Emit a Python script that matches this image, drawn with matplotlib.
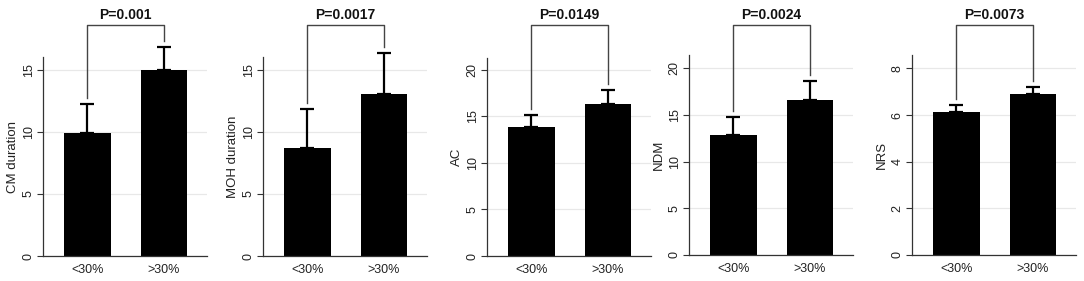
import matplotlib
matplotlib.use("Agg")
import matplotlib.pyplot as plt

plt.rcParams['font.family'] = ['Liberation Sans', 'DejaVu Sans']

groups = ["<30%", ">30%"]
ylabels = ["CM duration", "MOH duration", "AC", "NDM", "NRS"]
pvalues = ["P=0.001", "P=0.0017", "P=0.0149", "P=0.0024", "P=0.0073"]
means = [[9.9, 14.95], [8.73, 13.0], [13.85, 16.3], [12.86, 16.6], [6.12, 6.9]]
upper = [[12.25, 16.8], [11.85, 16.35], [15.2, 17.85], [14.75, 18.65], [6.43, 7.19]]
yticks = [[0, 5, 10, 15], [0, 5, 10, 15], [0, 5, 10, 15, 20],
          [0, 5, 10, 15, 20], [0, 2, 4, 6, 8]]

# layout (pixels / axis limits)
W, H = 1084, 281
lefts = [43, 263, 487, 689, 912]
zero_px = [256, 256, 256, 255, 255]
ytop = [20.6, 20.6, 27.5, 27.3, 10.93]
spine_top = [16, 16, 21.3, 21.4, 8.57]
xlim = (-0.58, 1.56)
unit_px = 76.5
ax_w = (xlim[1] - xlim[0]) * unit_px

fig = plt.figure(figsize=(W / 100, H / 100), dpi=100)

for i in range(5):
    ax = fig.add_axes([lefts[i] / W, (H - zero_px[i]) / H, ax_w / W, zero_px[i] / H])
    x = [0, 1]
    ax.bar(x, means[i], width=0.61, color='black', zorder=2)
    err = [u - m for u, m in zip(upper[i], means[i])]
    ax.errorbar(x, means[i], yerr=[[0, 0], err], fmt='none', ecolor='black',
                elinewidth=1.6, capsize=5, capthick=1.6, zorder=3)
    ax.set_xlim(*xlim)
    ax.set_ylim(0, ytop[i])
    ax.set_yticks(yticks[i])
    ax.set_xticks(x)
    ax.set_xticklabels(groups, fontsize=9, color='#222222')
    ax.tick_params(axis='x', length=0, pad=6)
    ax.tick_params(axis='y', length=4, width=0.8, color='#333333', pad=2,
                   labelsize=9, labelcolor='#222222')
    for lab in ax.get_yticklabels():
        lab.set_rotation(90)
        lab.set_va('center')
    ax.set_ylabel(ylabels[i], fontsize=9.5, color='#222222')
    ax.yaxis.set_label_coords(-0.145, spine_top[i] / 2 / ytop[i])
    ax.yaxis.grid(True, color='#e8e8e8', lw=0.9)
    ax.set_axisbelow(True)
    for s in ['top', 'right']:
        ax.spines[s].set_visible(False)
    ax.spines['left'].set_bounds(0, spine_top[i])
    for s in ['left', 'bottom']:
        ax.spines[s].set_color('#333333')
        ax.spines[s].set_linewidth(0.9)

    # significance bracket
    scale = zero_px[i] / ytop[i]
    btop = (zero_px[i] - 25) / scale
    gap = 6 / scale
    ax.plot([0, 0, 1, 1], [upper[i][0] + gap, btop, btop, upper[i][1] + gap],
            color='#444444', lw=1.0, clip_on=False)
    ax.text(0.5, (zero_px[i] - 15) / scale, pvalues[i], ha='center', va='center',
            fontsize=10, fontweight='bold', color='#111111')

fig.savefig("out.png", dpi=100)
